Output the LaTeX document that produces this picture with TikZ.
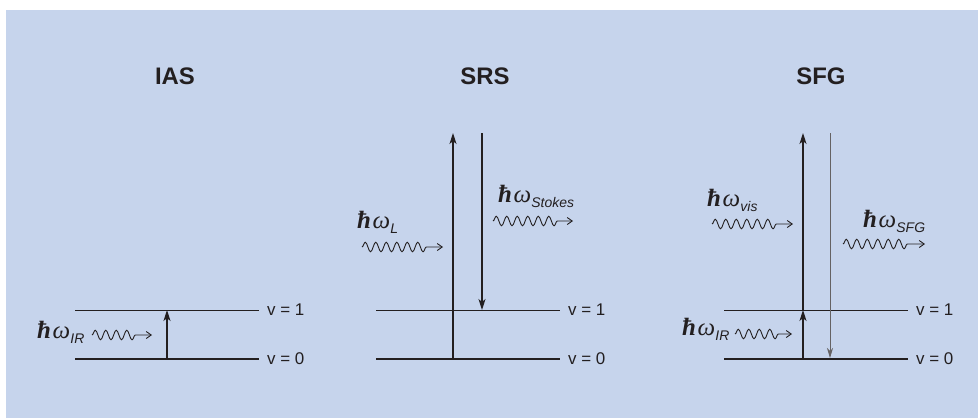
\documentclass[tikz,border=0pt]{standalone}
\usepackage{fontspec}
\setmainfont{Liberation Sans}
\setsansfont{Liberation Sans}
\newfontfamily\photfont{Liberation Serif}
\usepackage{tikz}
\usetikzlibrary{
	arrows.meta, positioning, calc, decorations.pathmorphing
}
\definecolor{panelblue}{RGB}{198, 212, 236}
\definecolor{inkgray}  {RGB}{ 35,  31,  32}
\newcommand{\hbarw}[1]{{\photfont{\bfseries\itshape ħ}\kern1.5bp{\itshape ω}}\kern0.3bp\raisebox{-5bp}{\fontsize{14}{14}\selectfont\itshape #1}}

\begin{document}
\begin{tikzpicture}[x=1bp, y=-1bp,
	title/.style={font=\fontsize{24}{24}\selectfont\bfseries, text=inkgray},
	level/.style={draw=inkgray, line width=1.1bp},
	lvllabel/.style={inner sep=0pt, anchor=west, font=\fontsize{17}{17}\selectfont, text=inkgray},
	trans/.style={draw=inkgray, line width=1.3bp, -{Stealth[length=11bp,width=7bp,inset=3bp]}},
	emit/.style={draw=inkgray!70, line width=0.8bp, -{Stealth[length=10bp,width=6bp,inset=3bp]}},
	plabel/.style={inner sep=0pt, anchor=base west, font=\fontsize{25}{25}\selectfont, text=inkgray},
	photon/.style={draw=inkgray, line width=0.9bp, -{Straight Barb[length=5bp,width=7bp]},
		decorate, decoration={snake, segment length=10.5bp, amplitude=4.8bp, post length=13bp}}]
	\useasboundingbox (0,0) rectangle (978,418);
	\fill[panelblue] (6,10) rectangle (978,418);
	% titles
	\node[title] (ias) at (175,76) {IAS};
	\node[title] (srs) at (485,76) {SRS};
	\node[title] (sfg) at (821,76) {SFG};
	% vibrational levels
	\foreach \p/\x in {ias/75, srs/376, sfg/724}{
		\coordinate (\p0s) at (\x,359);
		\coordinate (\p0e) at (\x+184,359);
		\coordinate (\p1s) at (\x,310);
		\coordinate (\p1e) at (\x+184,310);
		\draw[level] (\p0s) -- (\p0e);
		\draw[level, line width=0.8bp] (\p1s) -- (\p1e);
		\node[lvllabel, right=8bp of \p0e] (\p0l) {v = 0};
		\node[lvllabel, right=8bp of \p1e] (\p1l) {v = 1};
	}
	% IAS
	\coordinate (iasg) at (167,359);
	\coordinate (iasv) at (167,310);
	\draw[trans] (iasg) -- (iasv);
	\node[plabel] (iasir) at (37,338) {\hbarw{IR}};
	\coordinate (iasw0) at (92,335);
	\coordinate (iasw1) at (152,335);
	\draw[photon] (iasw0) -- (iasw1);
	% SRS
	\coordinate (srsg) at (453,359);
	\coordinate (srsu) at (453,133);
	\coordinate (srsd) at (482,133);
	\coordinate (srsv) at (482,310);
	\draw[trans] (srsg) -- (srsu);
	\draw[trans] (srsd) -- (srsv);
	\node[plabel] (srsl) at (357,228) {\hbarw{L}};
	\node[plabel] (srss) at (498,202) {\hbarw{Stokes}};
	\coordinate (srsw0) at (362,247);
	\coordinate (srsw1) at (443,247);
	\coordinate (srsw2) at (493,221);
	\coordinate (srsw3) at (573,221);
	\draw[photon] (srsw0) -- (srsw1);
	\draw[photon] (srsw2) -- (srsw3);
	% SFG
	\coordinate (sfgg) at (803,359);
	\coordinate (sfgv) at (803,310);
	\coordinate (sfgu) at (803,133);
	\coordinate (sfgd) at (830,133);
	\coordinate (sfgb) at (830,358);
	\draw[trans] (sfgg) -- (sfgv);
	\draw[trans] (sfgv) -- (sfgu);
	\draw[emit] (sfgd) -- (sfgb);
	\node[plabel] (sfgvis) at (707,206) {\hbarw{vis}};
	\node[plabel] (sfgsfg) at (863,227) {\hbarw{SFG}};
	\node[plabel] (sfgir) at (682,335) {\hbarw{IR}};
	\coordinate (sfgw0) at (712,224);
	\coordinate (sfgw1) at (793,224);
	\coordinate (sfgw2) at (843,244);
	\coordinate (sfgw3) at (925,244);
	\coordinate (sfgw4) at (735,334);
	\coordinate (sfgw5) at (792,334);
	\draw[photon] (sfgw0) -- (sfgw1);
	\draw[photon] (sfgw2) -- (sfgw3);
	\draw[photon] (sfgw4) -- (sfgw5);
\end{tikzpicture}
\end{document}
